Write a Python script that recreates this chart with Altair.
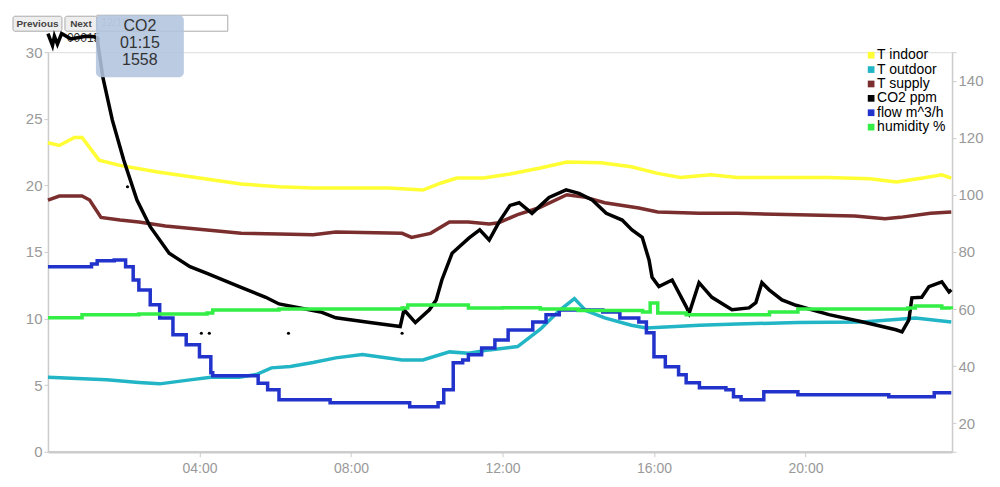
import altair as alt
import pandas as pd

SERIES = ["T indoor", "T outdoor", "T supply", "CO2 ppm", "flow m^3/h", "humidity %"]
COLORS = ["#ffff33", "#22b5c5", "#7a2e2e", "#000000", "#2233cc", "#33ee44"]

# T indoor (deg C)
tin_h = [0, 0.3, 0.7, 0.9, 1.35, 1.9, 2.9, 4.0, 5.1, 6.1, 7.0, 9.0, 9.9, 10.4, 10.8, 11.5, 12.2, 13.0,
         13.7, 14.6, 15.4, 16.1, 16.7, 17.5, 18.2, 20.6, 21.7, 22.4, 23.1, 23.6, 23.85]
tin_v = [23.2, 23.0, 23.6, 23.6, 21.9, 21.5, 21.0, 20.55, 20.1, 19.9, 19.8, 19.8, 19.65, 20.2, 20.55, 20.55,
         20.85, 21.3, 21.75, 21.7, 21.4, 20.9, 20.6, 20.8, 20.6, 20.6, 20.5, 20.25, 20.55, 20.8, 20.55]

# T outdoor (deg C)
tout_h = [0, 1.55, 2.4, 2.95, 3.75, 4.3, 5.05, 5.5, 5.9, 6.4, 7.0, 7.6, 8.3, 9.35, 9.9, 10.6, 11.1, 11.65,
          12.4, 13.0, 13.5, 13.9, 14.2, 14.7, 15.4, 15.8, 17.2, 18.2, 19.8, 21.5, 22.9, 23.85]
tout_v = [5.6, 5.4, 5.2, 5.1, 5.4, 5.6, 5.6, 5.8, 6.3, 6.4, 6.7, 7.05, 7.3, 6.9, 6.9, 7.5, 7.4, 7.65,
          7.9, 9.2, 10.6, 11.5, 10.6, 10.05, 9.5, 9.3, 9.5, 9.6, 9.7, 9.75, 10.05, 9.75]

# T supply (deg C)
tsup_h = [0, 0.3, 0.9, 1.1, 1.4, 1.9, 2.4, 3.1, 4.2, 5.1, 6.1, 7.0, 7.6, 9.35, 9.6, 10.1, 10.6, 11.1,
          11.65, 11.9, 12.4, 12.95, 13.7, 14.2, 14.7, 15.6, 16.1, 17.2, 18.2, 19.8, 21.3, 22.1, 22.5, 23.3, 23.85]
tsup_v = [18.9, 19.2, 19.2, 18.9, 17.6, 17.4, 17.25, 16.95, 16.65, 16.4, 16.35, 16.3, 16.5, 16.4, 16.1, 16.4,
          17.25, 17.25, 17.1, 17.2, 17.8, 18.3, 19.3, 19.1, 18.7, 18.3, 18.0, 17.9, 17.9, 17.8, 17.7, 17.5,
          17.6, 17.9, 18.0]

# CO2 (ppm), drawn at ppm / 50 on the left axis
co2_h = [0.0, 0.12, 0.17, 0.25, 0.36, 0.6, 1.0, 1.23, 1.3, 1.45, 1.7, 2.0, 2.35, 2.7, 3.2, 3.75, 4.2, 5.05,
         5.75, 6.1, 7.2, 7.6, 8.5, 9.3, 9.4, 9.7, 10.07, 10.25, 10.4, 10.67, 10.86, 11.12, 11.4, 11.65,
         11.92, 12.2, 12.44, 12.78, 13.23, 13.68, 14.02, 14.37, 14.74, 15.16, 15.42, 15.69, 15.87, 15.95,
         16.13, 16.48, 16.85, 16.93, 17.19, 17.53, 18.06, 18.51, 18.69, 18.85, 19.04, 19.38, 19.75, 20.62,
         21.49, 22.39, 22.55, 22.73, 22.81, 23.07, 23.26, 23.6, 23.79, 23.85]
co2_ppm = [1570, 1525, 1560, 1530, 1570, 1550, 1560, 1558, 1550, 1405, 1245, 1095, 945, 845, 745, 695, 670,
           620, 580, 555, 525, 503, 485, 470, 533, 485, 533, 570, 645, 745, 770, 803, 833, 795, 865, 925,
           935, 895, 955, 983, 970, 945, 895, 870, 833, 805, 720, 655, 620, 645, 545, 520, 635, 580, 533,
           540, 560, 635, 608, 570, 550, 515, 488, 458, 450, 495, 578, 580, 620, 638, 600, 608]
co2_dot_h = [2.1, 4.05, 4.26, 6.35, 9.35]
co2_dot_ppm = [995, 445, 445, 445, 445]

# flow (m^3/h), right axis
flow_h = [0, 1.15, 1.3, 1.75, 2.05, 2.25, 2.4, 2.7, 2.95, 3.3, 3.65, 4.0, 4.3, 4.35, 5.55, 5.8, 6.1, 7.45,
          9.55, 10.3, 10.45, 10.7, 10.95, 11.1, 11.45, 11.8, 12.15, 12.8, 13.15, 13.5, 14.65, 15.1, 15.6,
          15.8, 16.0, 16.3, 16.65, 16.85, 17.2, 17.9, 18.1, 18.3, 18.9, 19.8, 22.2, 23.4, 23.85]
flow_v = [74.8, 75.8, 76.9, 77.2, 74.8, 70.2, 66.7, 61.5, 56.9, 51.0, 47.5, 43.3, 37.7, 36.6, 34.0, 31.7,
          28.2, 27.2, 25.8, 27.2, 31.7, 41.2, 42.2, 44.0, 46.4, 49.2, 52.7, 55.5, 58.0, 59.7, 59.0, 56.9,
          55.5, 51.7, 43.3, 39.8, 37.0, 34.2, 32.4, 31.7, 29.3, 28.2, 31.0, 30.0, 29.3, 30.7, 30.7]

# humidity (%), right axis
hum_h = [0, 0.9, 1.55, 2.4, 4.2, 4.35, 6.1, 9.35, 9.5, 10.8, 11.1, 12.0, 13.0, 14.0, 15.0, 15.7, 15.9,
         16.1, 16.85, 18.2, 19.05, 19.8, 22.7, 22.9, 23.6, 23.85]
hum_v = [57.0, 58.0, 58.0, 58.3, 58.6, 59.7, 60.0, 60.4, 61.4, 61.4, 60.4, 60.5, 60.0, 59.5, 59.5, 59.0,
         62.1, 58.6, 58.0, 58.0, 59.0, 60.0, 60.4, 61.1, 60.4, 60.0]

LEFT_TICKS = [0, 5, 10, 15, 20, 25, 30]
RIGHT_TICKS = [10, 20, 40, 60, 80, 100, 120, 140, 150]
X_TICKS = [4, 8, 12, 16, 20]

FONT = "Liberation Sans"


def long(name, hs, vs):
    return pd.DataFrame({"series": name, "hour": hs, "value": vs})


left_df = pd.concat([
    long("T indoor", tin_h, tin_v),
    long("T outdoor", tout_h, tout_v),
    long("T supply", tsup_h, tsup_v),
    long("CO2 ppm", co2_h, [p / 50 for p in co2_ppm]),
], ignore_index=True)
dots_df = pd.DataFrame({"hour": co2_dot_h, "value": [p / 50 for p in co2_dot_ppm]})
right_df = pd.concat([
    long("flow m^3/h", flow_h, flow_v),
    long("humidity %", hum_h, hum_v),
], ignore_index=True)
legend_df = pd.DataFrame({"series": SERIES})

x_axis = alt.Axis(values=X_TICKS, labelExpr="(datum.value<10?'0':'')+datum.value+':00'", grid=False,
                  domainColor="#cccccc", domainWidth=2.5, tickColor="#cccccc", tickSize=5,
                  labelColor="#999999", labelFontSize=14, labelFont=FONT, title=None, labelPadding=5)
x_enc = alt.X("hour:Q", scale=alt.Scale(domain=[0, 23.87], nice=False, zero=False), axis=x_axis)

color_scale = alt.Scale(domain=SERIES, range=COLORS)
color_enc = alt.Color("series:N", scale=color_scale, legend=None)

left_y = alt.Y("value:Q", scale=alt.Scale(domain=[0, 30], nice=False, zero=False),
               axis=alt.Axis(orient="left", values=LEFT_TICKS, grid=False, domainColor="#cccccc",
                             domainWidth=1.5, tickColor="#cccccc", tickSize=4, labelColor="#999999",
                             labelFontSize=15, labelFont=FONT, title=None, labelPadding=2))
right_y = alt.Y("value:Q", scale=alt.Scale(domain=[10, 150], nice=False, zero=False),
                axis=alt.Axis(orient="right", values=RIGHT_TICKS, grid=False, domainColor="#cccccc",
                              domainWidth=1.5, tickColor="#cccccc", tickSize=4, labelColor="#999999",
                              labelFontSize=15, labelFont=FONT, title=None, labelPadding=2,
                              labelExpr="(datum.value==10||datum.value==150)?'':datum.label"))

left_lines = alt.Chart(left_df).mark_line(strokeWidth=3.5).encode(x=x_enc, y=left_y, color=color_enc)
left_dots = alt.Chart(dots_df).mark_point(filled=True, size=10, color="#000000", opacity=1).encode(
    x=x_enc, y=left_y)
left_group = alt.layer(left_lines, left_dots)

right_group = alt.Chart(right_df).mark_line(strokeWidth=3.5, interpolate="step-after").encode(
    x=x_enc, y=right_y, color=color_enc)

# legend block (top right): rows spaced by a point scale
leg_y = alt.Y("series:N", sort=SERIES,
              scale=alt.Scale(type="point", domain=SERIES, range=[3, 75], padding=0), axis=None)
legend = alt.layer(
    alt.Chart(legend_df).mark_square(size=45, opacity=1).encode(
        x=alt.value(824), y=leg_y, color=color_enc),
    alt.Chart(legend_df).mark_text(align="left", baseline="middle", fontSize=14, font=FONT,
                                   color="#000000").encode(
        x=alt.value(830), y=leg_y, text="series:N"),
)

dummy = pd.DataFrame({"k": [0]})


def box(x, x2, y, y2, **kw):
    return alt.Chart(dummy).mark_rect(**kw).encode(
        x=alt.value(x), x2=alt.value(x2), y=alt.value(y), y2=alt.value(y2))


def label(txt, x, y, **kw):
    return alt.Chart(dummy).mark_text(text=txt, font=FONT, **kw).encode(x=alt.value(x), y=alt.value(y))


controls = alt.layer(
    box(-35, 14, -36, -21, fill="#eeeeee", stroke="#aaaaaa", strokeWidth=1, cornerRadius=2),
    label("Previous", -10.5, -28.5, fontSize=10, fontWeight="bold", color="#444444"),
    box(17, 49, -36, -21, fill="#eeeeee", stroke="#aaaaaa", strokeWidth=1, cornerRadius=2),
    label("Next", 33, -28.5, fontSize=10, fontWeight="bold", color="#444444"),
    box(49, 180, -37, -21, fill="#ffffff", stroke="#aaaaaa", strokeWidth=1),
    label("12/16", 53, -29, fontSize=11, color="#bbbbbb", align="left"),
    label("00015", 19, -14, fontSize=12, color="#333333", align="left"),
)

tooltip = alt.layer(
    box(48, 136, -37, 25, fill="#b0c4de", opacity=0.88, cornerRadius=5),
    label("CO2", 92, -26, fontSize=16, color="#333333"),
    label("01:15", 92, -9, fontSize=16, color="#333333"),
    label("1558", 92, 8, fontSize=16, color="#333333"),
)

chart = alt.layer(controls, left_group, right_group, legend, tooltip).resolve_scale(
    y="independent"
).properties(
    width=905, height=400,
    padding={"left": 40, "top": 44, "right": 40, "bottom": 30},
    autosize=alt.AutoSizeParams(type="none"),
).configure_view(stroke=None).configure(background="#ffffff")

chart.save("out.html", embed_options={"renderer": "svg", "actions": False})
